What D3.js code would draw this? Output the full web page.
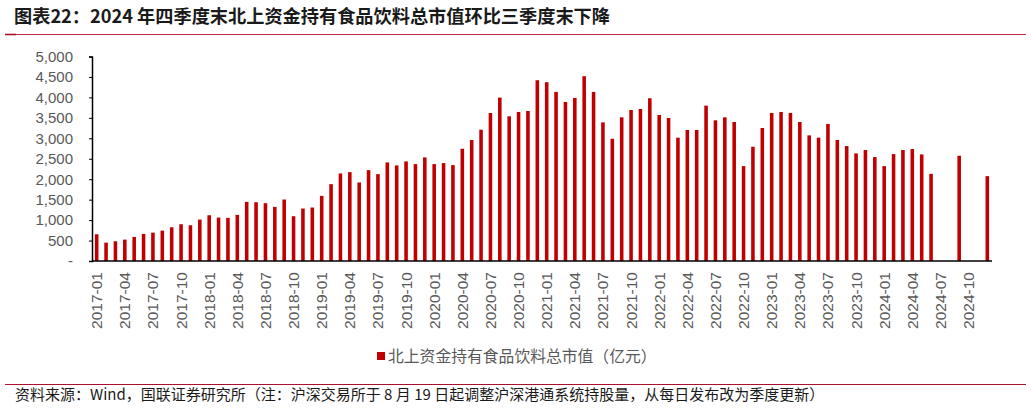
<!DOCTYPE html>
<html>
<head>
<meta charset="utf-8">
<script src="https://cdn.jsdelivr.net/npm/d3@7"></script>
<style>
  html, body { margin: 0; padding: 0; background: #fff; }
  svg { display: block; }
</style>
</head>
<body>
<svg id="chart" width="1031" height="408"></svg>
<script>
// ---- Data ----
const titleText = "图表22：2024 年四季度末北上资金持有食品饮料总市值环比三季度末下降";
const seriesName = "北上资金持有食品饮料总市值（亿元）";
const sourceText = "资料来源：Wind，国联证券研究所（注：沪深交易所于 8 月 19 日起调整沪深港通系统持股量，从每日发布改为季度更新）";

const years = ["2017","2018","2019","2020","2021","2022","2023","2024"];
const monthsOfYear = ["01","02","03","04","05","06","07","08","09","10","11","12"];
const categories = [];
years.forEach(y => monthsOfYear.forEach(m => categories.push(y + "-" + m)));

// 北上资金持有食品饮料总市值（亿元）, 2017-01 .. 2024-12 (null = no data)
const values = [
  654, 449, 482, 523, 588, 662, 694, 743, 825, 899, 874, 1013,      // 2017
  1119, 1062, 1054, 1127, 1446, 1438, 1413, 1323, 1503, 1095, 1283, 1307, // 2018
  1593, 1879, 2141, 2173, 1920, 2222, 2124, 2410, 2337, 2435, 2369, 2533, // 2019
  2369, 2394, 2345, 2745, 2958, 3211, 3619, 3995, 3538, 3644, 3668, 4420, // 2020
  4371, 4134, 3889, 3987, 4518, 4134, 3390, 2990, 3513, 3693, 3717, 3979, // 2021
  3570, 3497, 3015, 3203, 3203, 3799, 3440, 3513, 3399, 2320, 2794, 3252, // 2022
  3619, 3644, 3619, 3399, 3072, 3015, 3350, 2958, 2810, 2631, 2713, 2541, // 2023
  2320, 2614, 2713, 2737, 2606, 2132, null, null, 2574, null, null, 2075  // 2024
];

const xTickLabels = categories.filter((c, i) => i % 3 === 0 && c <= "2024-10");
const yTicks = [0, 500, 1000, 1500, 2000, 2500, 3000, 3500, 4000, 4500, 5000];
const yTickLabels = ["-", "500", "1,000", "1,500", "2,000", "2,500", "3,000", "3,500", "4,000", "4,500", "5,000"];

// ---- Layout ----
const svg = d3.select("#chart");
const plot = { left: 92, right: 992, top: 56.5, bottom: 261 };
const barColor = "#C00000";
const textGray = "#595959";

const x = d3.scaleBand().domain(categories).range([plot.left, plot.right]).paddingInner(0.62).paddingOuter(0.31);
const y = d3.scaleLinear().domain([0, 5000]).range([plot.bottom, plot.top]);

// Title
svg.append("text")
  .attr("x", 14).attr("y", 23)
  .attr("font-family", "'Noto Sans CJK SC', sans-serif")
  .attr("font-weight", "bold")
  .attr("font-size", 18.2)
  .attr("fill", "#1a1a1a")
  .text(titleText);

// Title rule
svg.append("line").attr("x1", 5).attr("x2", 1026).attr("y1", 34.5).attr("y2", 34.5)
  .attr("stroke", "#c8284a").attr("stroke-width", 1.2);
svg.append("line").attr("x1", 5).attr("x2", 16).attr("y1", 34.5).attr("y2", 34.5)
  .attr("stroke", "#b0102a").attr("stroke-width", 1.6);

// Bars
svg.append("g").selectAll("rect")
  .data(categories.map((c, i) => ({ c, v: values[i] })).filter(d => d.v !== null))
  .join("rect")
  .attr("x", d => x(d.c))
  .attr("y", d => y(d.v))
  .attr("width", x.bandwidth())
  .attr("height", d => y(0) - y(d.v))
  .attr("fill", barColor);

// Y axis
const yAxis = d3.axisLeft(y).tickValues(yTicks)
  .tickFormat((d, i) => yTickLabels[i]).tickSize(3).tickPadding(16);
const gy = svg.append("g").attr("transform", `translate(${plot.left},0)`).call(yAxis);
gy.select(".domain").attr("stroke", "#000").attr("stroke-width", 1.5);
gy.selectAll(".tick line").attr("stroke", "#000");
gy.selectAll(".tick text")
  .attr("font-family", "'Liberation Sans', Arial, sans-serif")
  .attr("font-size", 15).attr("fill", textGray);

// X axis
const xAxis = d3.axisBottom(x).tickValues(xTickLabels).tickSize(0).tickPadding(6);
const gx = svg.append("g").attr("transform", `translate(0,${plot.bottom})`).call(xAxis);
gx.select(".domain").attr("stroke", "#000").attr("stroke-width", 1.5)
  .attr("d", `M${plot.left},0H${plot.right}`);
gx.selectAll(".tick text")
  .attr("font-family", "'Liberation Sans', Arial, sans-serif")
  .attr("font-size", 15.5).attr("fill", textGray)
  .attr("text-anchor", "end")
  .attr("dy", "0.35em")
  .attr("transform", "translate(0,5) rotate(-90)")
  .attr("x", -6).attr("y", 0);

// Legend
svg.append("rect").attr("x", 377).attr("y", 352).attr("width", 8).attr("height", 8).attr("fill", barColor);
svg.append("text").attr("x", 388).attr("y", 362)
  .attr("font-family", "'Noto Sans CJK SC', sans-serif")
  .attr("font-size", 15.8).attr("fill", textGray)
  .text(seriesName);

// Bottom rule
svg.append("line").attr("x1", 5).attr("x2", 1026).attr("y1", 384.5).attr("y2", 384.5)
  .attr("stroke", "#a8102e").attr("stroke-width", 1.2);

// Source
svg.append("text").attr("x", 15).attr("y", 400)
  .attr("font-family", "'Noto Sans CJK SC', sans-serif")
  .attr("font-size", 15).attr("fill", "#1a1a1a")
  .text(sourceText);
</script>
</body>
</html>
